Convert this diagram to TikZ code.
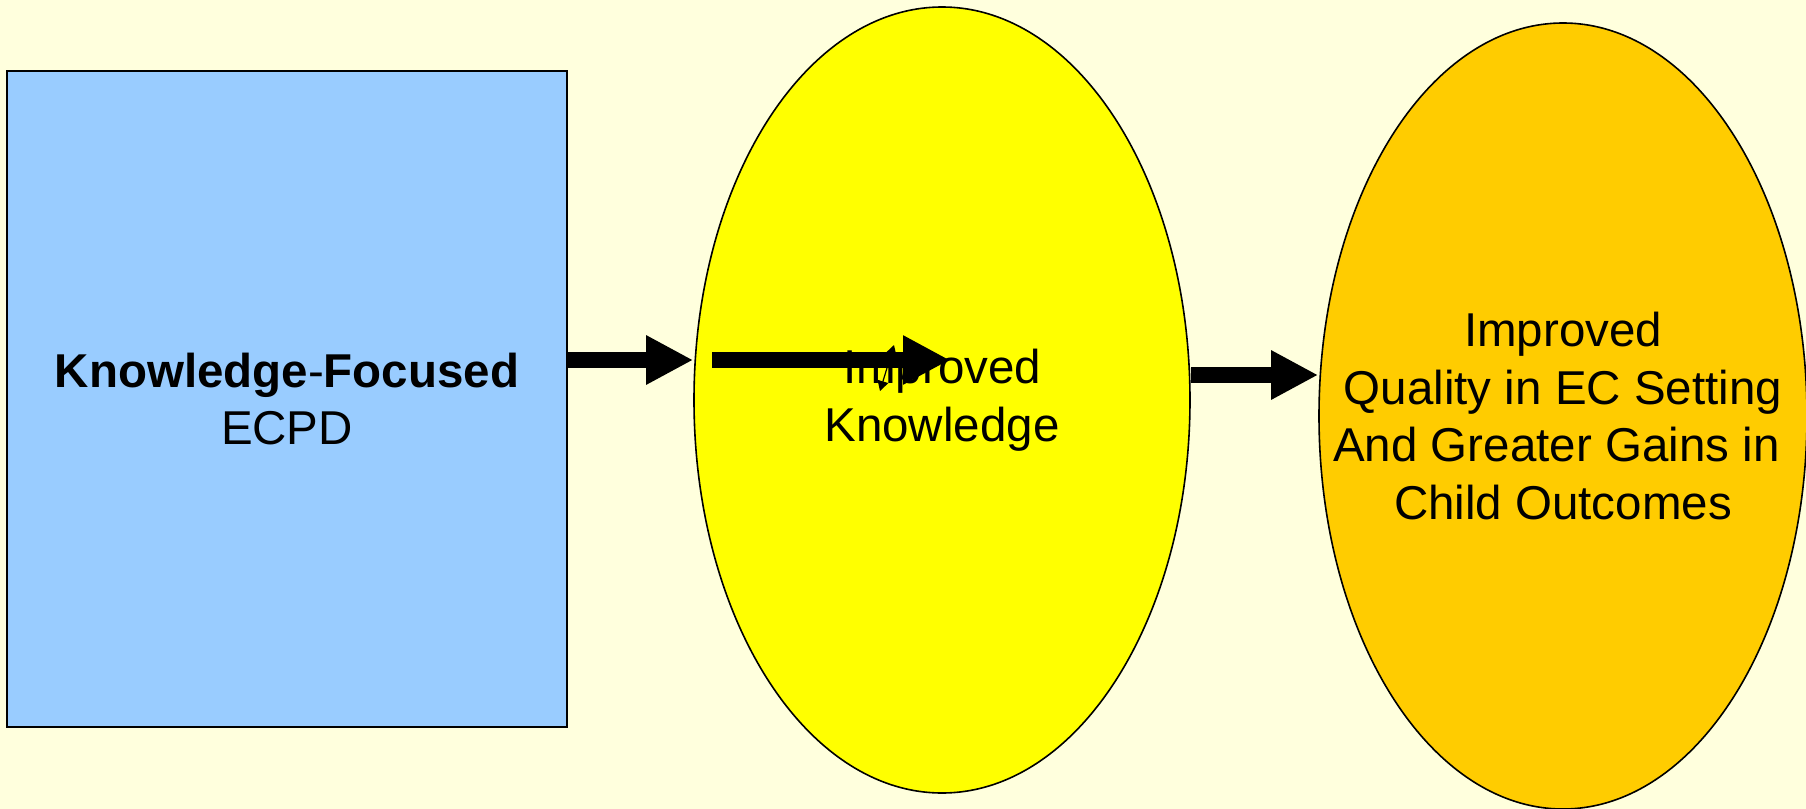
\documentclass[tikz,border=0pt]{standalone}
\usepackage{fontspec}
\setmainfont{Liberation Sans}
\usetikzlibrary{arrows.meta,shapes.geometric}
\definecolor{slidebg}{RGB}{255,255,221}
\definecolor{ecpdblue}{RGB}{153,204,255}
\definecolor{knowyellow}{RGB}{255,255,0}
\definecolor{outcomeorange}{RGB}{255,204,0}

\begin{document}
\begin{tikzpicture}[
  x=0.5pt, y=-0.5pt,
  every node/.style={font=\fontsize{23.75}{28.75}\selectfont},
  pdbox/.style={draw=black, line width=1pt, fill=ecpdblue,
    align=center, inner sep=0pt,
    minimum width=280pt, minimum height=328pt},
  result/.style={ellipse, draw=black, line width=0.8pt,
    align=center, inner sep=0pt, inner xsep=-30pt,
    minimum width=248pt, minimum height=393pt},
  bigarr/.style={-{Triangle[length=23.5pt,width=23pt]}, line width=7.7pt},
  tinyarr/.style={{Triangle[length=5pt,width=5.5pt]}-{Triangle[length=5pt,width=5.5pt]}, line width=0.6pt},
]

\fill[slidebg] (0,0) rectangle (1806,809);
\useasboundingbox (0,0) rectangle (1806,809);

\node[pdbox]  at ( 287, 399) (ecpd)    {\textbf{Knowledge}-\textbf{Focused}\\ECPD};
\node[result, fill=knowyellow] at ( 942, 400) (know) {Improved\\Knowledge};
\node[result, fill=outcomeorange, minimum width=244pt]
              at (1563, 416) (quality) {Improved\\Quality in EC Setting\\And Greater Gains in\hphantom{t}\\Child Outcomes};

\coordinate (knowin)  at ( 712, 360);
\coordinate (knowout) at ( 950, 360);
\coordinate (tinytop) at ( 894, 345);
\coordinate (tinybot) at ( 880, 391);

\draw[tinyarr] (tinybot) -- (tinytop);
\draw[bigarr] (ecpd.east |- knowin) -- (know.west |- knowin);
\draw[bigarr] (knowin) -- (knowout);
\draw[bigarr] (know.east |- 0,375) -- (quality.west |- 0,375);
\end{tikzpicture}
\end{document}
